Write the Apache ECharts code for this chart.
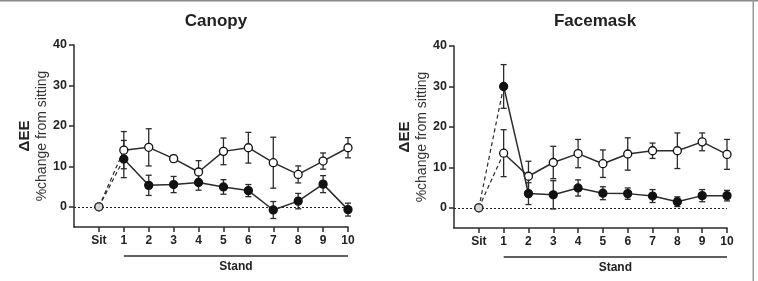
<!DOCTYPE html>
<html>
<head>
<meta charset="utf-8">
<script src="https://cdn.jsdelivr.net/npm/echarts@6/dist/echarts.min.js"></script>
<style>
  html, body { margin: 0; padding: 0; background: #fff; }
  #chart { width: 758px; height: 281px; }
</style>
</head>
<body>
<div id="chart"></div>
<script>
// x positions: 0 = Sit, 1..10 = stand minutes
var xTicks = [0, 1, 2, 3, 4, 5, 6, 7, 8, 9, 10];
var yTicks = [0, 10, 20, 30, 40];
var panelTitles = ['Canopy', 'Facemask'];

var canopyOpen      = [0, 14.0, 14.7, 11.9, 8.6, 13.7, 14.6, 10.9, 8.0, 11.3, 14.6];
var canopyOpenErr   = [0, 4.6, 4.6, 0.8, 2.8, 3.3, 3.8, 6.3, 2.1, 2.0, 2.5];
var canopyFilled    = [0, 11.8, 5.3, 5.5, 6.0, 4.9, 4.0, -0.8, 1.4, 5.6, -0.7];
var canopyFilledErr = [0, 4.6, 2.5, 2.0, 1.9, 1.8, 1.5, 2.1, 1.9, 2.1, 1.6];

var faceOpen      = [0, 13.5, 7.8, 11.2, 13.4, 10.9, 13.3, 14.1, 14.1, 16.3, 13.2];
var faceOpenErr   = [0, 5.8, 3.7, 4.0, 3.5, 3.4, 4.0, 1.9, 4.4, 2.2, 3.7];
var faceFilled    = [0, 30.0, 3.5, 3.2, 4.9, 3.6, 3.5, 2.9, 1.5, 3.0, 3.0];
var faceFilledErr = [0, 5.4, 2.7, 3.5, 2.0, 1.6, 1.4, 1.6, 1.2, 1.5, 1.3];

var ink = '#2b2b2b';
var font = 'Liberation Sans, Arial, sans-serif';

function pts(arr, from, to) {
  var out = [];
  for (var i = from; i <= to; i++) out.push([xTicks[i], arr[i]]);
  return out;
}

function errData(vals, errs) {
  var out = [];
  for (var i = 1; i < vals.length; i++) out.push([xTicks[i], vals[i] - errs[i], vals[i] + errs[i]]);
  return out;
}

function errSeries(idx, vals, errs) {
  return {
    type: 'custom', xAxisIndex: idx, yAxisIndex: idx, z: 2,
    data: errData(vals, errs),
    renderItem: function (params, api) {
      var lo = api.coord([api.value(0), api.value(1)]);
      var hi = api.coord([api.value(0), api.value(2)]);
      var w = 3;
      var st = { stroke: ink, lineWidth: 1.3 };
      return { type: 'group', children: [
        { type: 'line', shape: { x1: lo[0], y1: lo[1], x2: hi[0], y2: hi[1] }, style: st },
        { type: 'line', shape: { x1: lo[0] - w, y1: lo[1], x2: lo[0] + w, y2: lo[1] }, style: st },
        { type: 'line', shape: { x1: hi[0] - w, y1: hi[1], x2: hi[0] + w, y2: hi[1] }, style: st }
      ]};
    }
  };
}

function lineSeries(idx, vals, filled) {
  var sym = {
    symbol: 'circle', symbolSize: 8,
    itemStyle: { color: filled ? '#111' : '#fff', borderColor: '#111', borderWidth: 1.3 }
  };
  return [
    { type: 'line', xAxisIndex: idx, yAxisIndex: idx, data: pts(vals, 0, 1), symbol: 'none', z: 3,
      lineStyle: { color: ink, width: 1.2, type: [4, 3] } },
    Object.assign({ type: 'line', xAxisIndex: idx, yAxisIndex: idx, data: pts(vals, 1, 10), z: filled ? 5 : 4,
      lineStyle: { color: ink, width: 1.5 } }, sym),
    Object.assign({ type: 'scatter', xAxisIndex: idx, yAxisIndex: idx, data: pts(vals, 0, 0), z: filled ? 5 : 6 }, sym)
  ];
}

// "Stand" bracket under minutes 1..10
function standSeries(idx) {
  return {
    type: 'custom', xAxisIndex: idx, yAxisIndex: idx, clip: false, silent: true,
    data: [[1, 10]],
    renderItem: function (params, api) {
      var a = api.coord([api.value(0), -5]);
      var b = api.coord([api.value(1), -5]);
      return { type: 'group', children: [
        { type: 'line', shape: { x1: a[0], y1: a[1] + 29, x2: b[0], y2: b[1] + 29 },
          style: { stroke: ink, lineWidth: 1.5 } },
        { type: 'text', x: (a[0] + b[0]) / 2, y: a[1] + 40,
          style: { text: 'Stand', fill: '#222', font: 'bold 12px ' + font, align: 'center', verticalAlign: 'middle' } }
      ]};
    }
  };
}

var grids = [
  { left: 74, top: 45, width: 274, height: 182, outerBoundsMode: 'none' },
  { left: 454, top: 46, width: 273, height: 182, outerBoundsMode: 'none' }
];

function xAxis(idx) {
  return {
    type: 'value', gridIndex: idx, min: -1, max: 10,
    splitLine: { show: false },
    axisLine: { onZero: false, lineStyle: { color: ink, width: 1.5 } },
    axisTick: { customValues: xTicks, length: 5, lineStyle: { color: ink, width: 1.5 } },
    axisLabel: { customValues: xTicks, margin: 8, color: '#222', fontFamily: font, fontWeight: 'bold', fontSize: 12,
      formatter: function (v) { return v === 0 ? 'Sit' : String(v); } }
  };
}

function yAxis(idx) {
  return {
    type: 'value', gridIndex: idx, min: -5, max: 40,
    splitLine: { show: false },
    axisLine: { show: true, onZero: false, lineStyle: { color: ink, width: 1.5 } },
    axisTick: { customValues: yTicks, length: 5, lineStyle: { color: ink, width: 1.5 } },
    axisLabel: { customValues: yTicks, margin: 7, color: '#222', fontFamily: font, fontWeight: 'bold', fontSize: 12.5 },
    name: '{a|ΔEE}\n{b|%change from sitting}',
    nameLocation: 'middle', nameRotate: 90, nameGap: 19,
    nameTextStyle: {
      rich: {
        a: { fontFamily: font, fontWeight: 'bold', fontSize: 15, color: '#222', lineHeight: 17 },
        b: { fontFamily: font, fontSize: 14, color: '#333', lineHeight: 17 }
      }
    }
  };
}

function zeroLine(idx) {
  return {
    type: 'line', xAxisIndex: idx, yAxisIndex: idx, data: [], z: 1,
    markLine: {
      silent: true, symbol: 'none', label: { show: false },
      lineStyle: { color: '#222', width: 1, type: [2, 2] },
      data: [{ yAxis: 0 }]
    }
  };
}

var series = [].concat(
  zeroLine(0),
  errSeries(0, canopyOpen, canopyOpenErr),
  errSeries(0, canopyFilled, canopyFilledErr),
  lineSeries(0, canopyOpen, false),
  lineSeries(0, canopyFilled, true),
  standSeries(0),
  zeroLine(1),
  errSeries(1, faceOpen, faceOpenErr),
  errSeries(1, faceFilled, faceFilledErr),
  lineSeries(1, faceOpen, false),
  lineSeries(1, faceFilled, true),
  standSeries(1)
);

var option = {
  backgroundColor: '#fff',
  animation: false,
  title: [
    { text: panelTitles[0], left: 211, top: 8, textAlign: 'center',
      textStyle: { fontFamily: font, fontWeight: 'bold', fontSize: 17, color: '#222' } },
    { text: panelTitles[1], left: 590, top: 8, textAlign: 'center',
      textStyle: { fontFamily: font, fontWeight: 'bold', fontSize: 17, color: '#222' } }
  ],
  grid: grids,
  xAxis: [xAxis(0), xAxis(1)],
  yAxis: [yAxis(0), yAxis(1)],
  series: series,
  graphic: [
    { type: 'rect', shape: { x: 0, y: 0, width: 758, height: 1.5 }, style: { fill: '#8a8a8a' }, silent: true },
    { type: 'rect', shape: { x: 752.5, y: 0, width: 1.5, height: 281 }, style: { fill: '#9a9a9a' }, silent: true }
  ]
};

var myChart = echarts.init(document.getElementById('chart'));
myChart.setOption(option);
</script>
</body>
</html>
